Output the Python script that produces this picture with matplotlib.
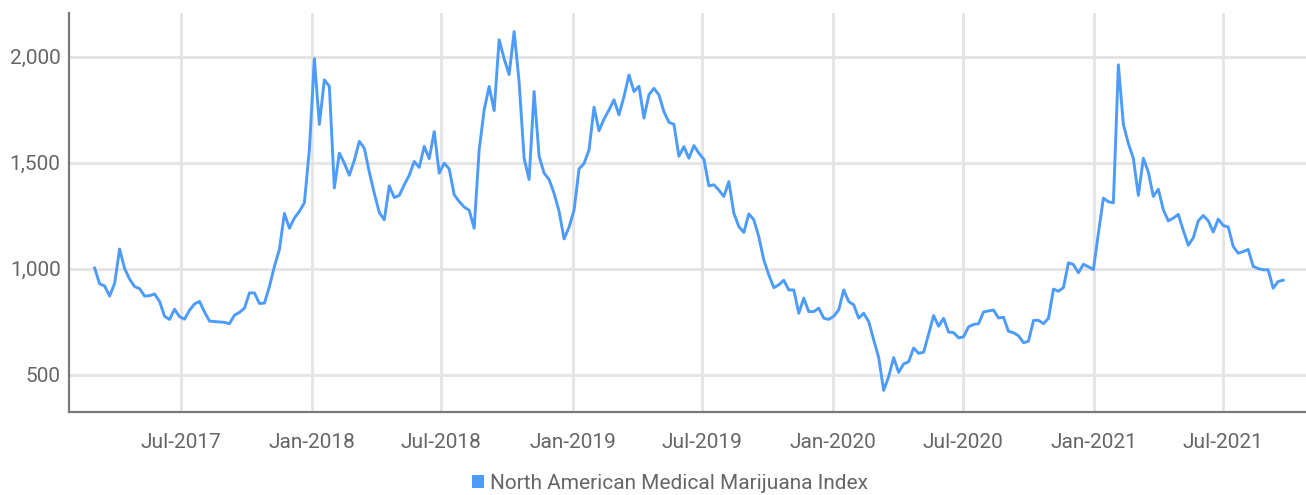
import numpy as np
import pandas as pd
import matplotlib
matplotlib.use("Agg")
import matplotlib.pyplot as plt
import matplotlib.dates as mdates
from matplotlib.ticker import FuncFormatter
from matplotlib.patches import Patch

plt.rcParams['font.family'] = ['Roboto', 'DejaVu Sans']

# weekly closes of the index
start_date = '2017-03-02'
index_values = [
    1002, 928, 918, 870, 930, 1092, 1000, 950, 915, 905,
    870, 872, 880, 845, 775, 760, 808, 773, 761, 803,
    833, 845, 795, 752, 750, 748, 746, 740, 780, 793,
    813, 885, 885, 835, 837, 915, 1010, 1090, 1260, 1190,
    1238, 1270, 1310, 1560, 1990, 1680, 1890, 1860, 1380, 1544,
    1497, 1440, 1510, 1600, 1568, 1455, 1355, 1264, 1230, 1390,
    1335, 1345, 1395, 1440, 1505, 1477, 1576, 1518, 1646, 1450,
    1497, 1470, 1348, 1316, 1290, 1275, 1190, 1560, 1748, 1859,
    1745, 2079, 1990, 1915, 2118, 1880, 1520, 1420, 1835, 1530,
    1450, 1420, 1355, 1270, 1140, 1195, 1275, 1470, 1495, 1560,
    1761, 1650, 1705, 1748, 1796, 1725, 1811, 1913, 1835, 1860,
    1710, 1820, 1850, 1819, 1740, 1690, 1680, 1530, 1575, 1520,
    1580, 1544, 1515, 1390, 1395, 1370, 1340, 1410, 1261, 1198,
    1170, 1258, 1230, 1150, 1040, 970, 910, 923, 945, 899,
    899, 789, 860, 797, 797, 813, 766, 760, 775, 805,
    899, 844, 829, 766, 789, 750, 664, 580, 425, 490,
    580, 510, 550, 560, 625, 600, 605, 690, 778, 728,
    765, 700, 698, 673, 678, 725, 736, 740, 795, 800,
    804, 767, 770, 704, 697, 683, 650, 657, 755, 756,
    740, 765, 903, 893, 910, 1027, 1019, 980, 1020, 1008,
    995, 1167, 1332, 1315, 1310, 1961, 1680, 1590, 1520, 1345,
    1520, 1455, 1340, 1374, 1277, 1225, 1238, 1255, 1180, 1110,
    1145, 1225, 1250, 1225, 1172, 1233, 1203, 1196, 1104, 1072,
    1080, 1090, 1010, 1000, 994, 994, 907, 939, 945,
]
dates = pd.date_range(start_date, periods=len(index_values), freq='7D')

series_name = 'North American Medical Marijuana Index'
tick_dates = ['2017-07-01', '2018-01-01', '2018-07-01', '2019-01-01', '2019-07-01',
              '2020-01-01', '2020-07-01', '2021-01-01', '2021-07-01']
y_ticks = [500, 1000, 1500, 2000]

line_color = '#4d9bfa'
text_color = '#666666'
grid_color = '#e4e4e4'

fig = plt.figure(figsize=(13.06, 4.95), dpi=100)
ax = fig.add_axes([0.0528, 0.168, 0.9472, 0.806])

ax.plot(dates, index_values, color=line_color, lw=2.1, zorder=3)

ax.set_xlim(pd.Timestamp('2017-01-25'), pd.Timestamp('2021-10-25'))
ax.set_ylim(324, 2206)

ax.set_xticks(pd.to_datetime(tick_dates))
ax.xaxis.set_major_formatter(mdates.DateFormatter('%b-%Y'))
ax.set_yticks(y_ticks)
ax.yaxis.set_major_formatter(FuncFormatter(lambda v, p: f'{int(v):,}'))

ax.grid(True, color=grid_color, lw=2, zorder=0)
ax.tick_params(axis='both', length=0, labelsize=15, labelcolor=text_color)
ax.tick_params(axis='x', pad=15)
ax.tick_params(axis='y', pad=6)

for side in ['top', 'right']:
    ax.spines[side].set_visible(False)
for side in ['left', 'bottom']:
    ax.spines[side].set_color('#7a7a7a')
    ax.spines[side].set_linewidth(1.6)

handle = Patch(facecolor=line_color, edgecolor='none')
fig.legend([handle], [series_name], loc='center', bbox_to_anchor=(0.513, 0.024),
           frameon=False, fontsize=15, labelcolor=text_color,
           handlelength=0.6, handleheight=0.6, handletextpad=0.3)

fig.savefig('out.png', dpi=100)
